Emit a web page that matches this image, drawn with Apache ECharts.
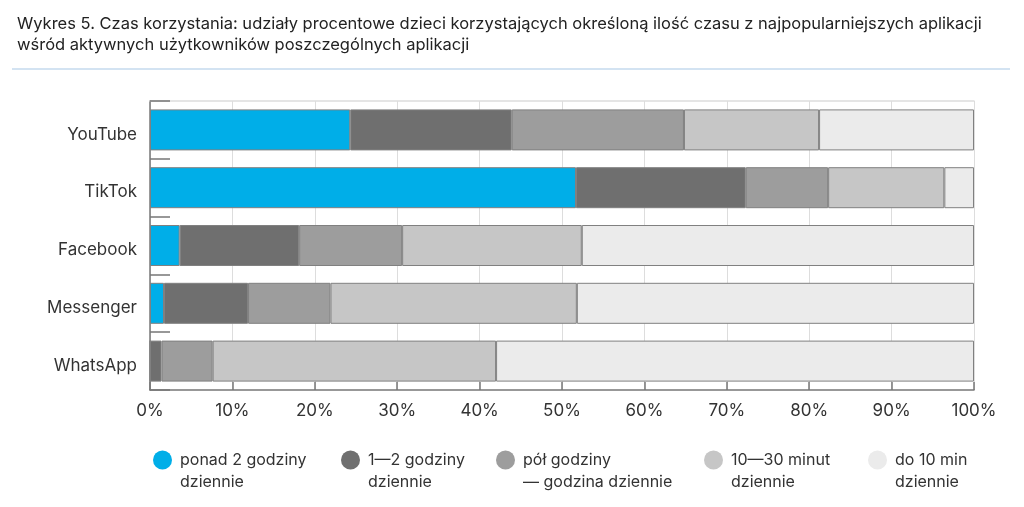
<!DOCTYPE html>
<html><head><meta charset="utf-8">
<script src="https://cdn.jsdelivr.net/npm/echarts@6/dist/echarts.min.js"></script>
<style>html,body{margin:0;padding:0;background:#fff}#c{width:1024px;height:507px}</style>
</head><body><div id="c"></div>
<script>
const categories = ['YouTube','TikTok','Facebook','Messenger','WhatsApp'];
const seriesNames = ['ponad 2 godziny dziennie','1—2 godziny dziennie','pół godziny — godzina dziennie','10—30 minut dziennie','do 10 min dziennie'];
const legendLabels = ['ponad 2 godziny\ndziennie','1—2 godziny\ndziennie','pół godziny\n— godzina dziennie','10—30 minut\ndziennie','do 10 min\ndziennie'];
const over2h   = [24.3, 51.7, 3.6, 1.7, 0];
const h1to2    = [19.6, 20.6, 14.5, 10.2, 1.4];
const halfTo1h = [20.9, 10.0, 12.5, 10.0, 6.2];
const m10to30  = [16.4, 14.1, 21.8, 29.9, 34.4];
const under10  = [18.8, 3.6, 47.6, 48.2, 58.0];
const xTicks = [0,10,20,30,40,50,60,70,80,90,100];
const colors = ['#00AEE8','#6F6F6F','#9D9D9D','#C6C6C6','#EBEBEB'];
const values = [over2h, h1to2, halfTo1h, m10to30, under10];
const legendLeft = [148, 336, 491, 699, 863];
const FONT = 'Inter';

const chart = echarts.init(document.getElementById('c'));
chart.setOption({
  animation: false,
  textStyle: {fontFamily: FONT},
  title: {
    text: 'Wykres 5. Czas korzystania: udziały procentowe dzieci korzystających określoną ilość czasu z najpopularniejszych aplikacji\nwśród aktywnych użytkowników poszczególnych aplikacji',
    left: 12, top: 9,
    textStyle: {fontFamily: FONT, fontSize: 16.5, fontWeight: 'normal', color: '#222', lineHeight: 21}
  },
  graphic: [{type: 'line', shape: {x1: 12, y1: 69, x2: 1010, y2: 69}, style: {stroke: '#D3E3F2', lineWidth: 2}}],
  grid: {left: 150, right: 50, top: 101, bottom: 117},
  xAxis: [{
    type: 'value', min: 0, max: 100, interval: 10,
    axisLine: {show: true, lineStyle: {color: '#777', width: 1.5}},
    axisTick: {show: true, inside: true, length: 8, lineStyle: {color: '#777', width: 1.5}},
    axisLabel: {formatter: v => v + '%', fontSize: 17, color: '#333', margin: 12, fontFamily: FONT},
    splitLine: {show: true, lineStyle: {color: '#DDDDDD', width: 1}}
  }, {
    type: 'value', position: 'top', min: 0, max: 100, interval: 10,
    axisLine: {show: true, lineStyle: {color: '#DDDDDD', width: 1.5}},
    axisTick: {show: false}, axisLabel: {show: false}, splitLine: {show: false}
  }],
  yAxis: {
    type: 'category', inverse: true, data: categories,
    axisLine: {show: true, lineStyle: {color: '#777', width: 1.5}},
    axisTick: {show: true, inside: true, length: 20, lineStyle: {color: '#777', width: 1.5}},
    axisLabel: {
      margin: 13, formatter: v => '{a|' + v + '}',
      rich: {a: {fontSize: 17, color: '#333', fontFamily: FONT, padding: [9, 0, 0, 0]}}
    }
  },
  legend: seriesNames.map((n, i) => ({
    data: [n], left: legendLeft[i], top: 422,
    icon: 'circle', itemWidth: 19, itemHeight: 19, itemGap: 0,
    itemStyle: {borderWidth: 0},
    formatter: () => ' \n' + legendLabels[i],
    selectedMode: false,
    textStyle: {fontSize: 16, color: '#333', lineHeight: 22, padding: [0, 0, 0, 3], fontFamily: FONT}
  })),
  series: seriesNames.map((n, i) => ({
    name: n, type: 'bar', stack: 'total', barWidth: 41,
    itemStyle: {color: colors[i], borderColor: '#808080', borderWidth: 1},
    emphasis: {disabled: true},
    data: values[i]
  }))
});
</script></body></html>
